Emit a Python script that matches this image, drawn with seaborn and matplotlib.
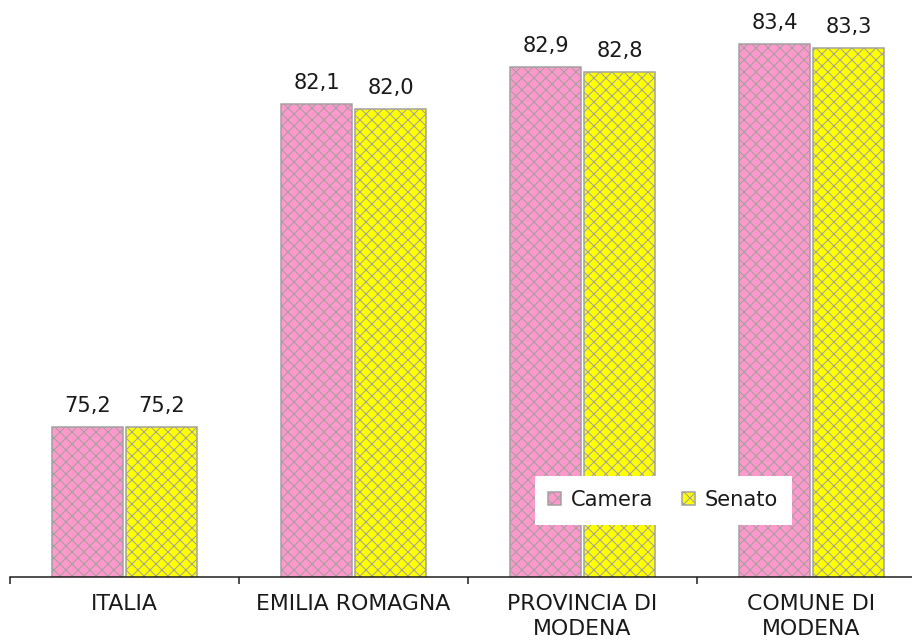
import pandas as pd
import matplotlib.pyplot as plt
import seaborn as sns
from matplotlib.patches import Patch

# Values.
areas = ["ITALIA", "EMILIA ROMAGNA", "PROVINCIA DI\nMODENA", "COMUNE DI\nMODENA"]
camera = [75.2, 82.1, 82.9, 83.4]
senato = [75.2, 82.0, 82.8, 83.3]
series = ["Camera", "Senato"]
colors = ["#ff99cc", "#ffff00"]

df = pd.DataFrame({
    "area": areas * 2,
    "valore": camera + senato,
    "tipo": [series[0]] * len(areas) + [series[1]] * len(areas),
})

sns.set_theme(style="white")
plt.rcParams["font.family"] = ["DejaVu Sans"]
plt.rcParams["hatch.linewidth"] = 1.0

# dpi 72 so that points == pixels.
fig = plt.figure(figsize=(912 / 72, 643 / 72), dpi=72)
ax = fig.add_axes([10 / 912, 66 / 643, 902 / 912, 577 / 643])

sns.barplot(
    data=df, x="area", y="valore", hue="tipo", palette=colors, saturation=1,
    width=0.646, gap=0.04, edgecolor="#a0a0a0", linewidth=1.5,
    hatch="xx", legend=False, ax=ax,
)

# Value labels with decimal comma.
for cont in ax.containers:
    vals = [b.get_height() for b in cont]
    ax.bar_label(cont, labels=[f"{v:.1f}".replace(".", ",") for v in vals],
                 padding=11, fontsize=21, color="#1a1a1a")

ax.set_ylim(72, 84.33)
ax.set_xlim(-0.5, -0.5 + 902 / 229)
ax.set_xlabel("")
ax.set_ylabel("")
ax.set_yticks([])

for s in ["left", "top", "right"]:
    ax.spines[s].set_visible(False)
ax.spines["bottom"].set_color("#1a1a1a")
ax.spines["bottom"].set_linewidth(1.5)

# Category labels centred, ticks on the category boundaries.
ax.set_xticks(range(len(areas)))
ax.set_xticklabels(areas, fontsize=22, color="#1a1a1a", linespacing=1.3)
ax.tick_params(axis="x", which="major", length=0, pad=17)
ax.set_xticks([-0.5, 0.5, 1.5, 2.5], minor=True)
ax.tick_params(axis="x", which="minor", direction="out", length=7,
               width=1.5, color="#1a1a1a", bottom=True)

handles = [
    Patch(facecolor=c, edgecolor="#a0a0a0", hatch="xx", linewidth=1.5, label=s)
    for c, s in zip(colors, series)
]
leg = ax.legend(
    handles=handles, ncol=2, loc="center",
    bbox_to_anchor=(663 / 912, 1 - 500 / 643), bbox_transform=fig.transFigure,
    fontsize=21, frameon=True, fancybox=False, framealpha=1,
    handlelength=0.6, handleheight=0.6, handletextpad=0.45,
    columnspacing=1.4, borderpad=0.65,
)
leg.get_frame().set_edgecolor("white")
for t in leg.get_texts():
    t.set_color("#1a1a1a")

fig.savefig("out.png", dpi=72, facecolor="white")
